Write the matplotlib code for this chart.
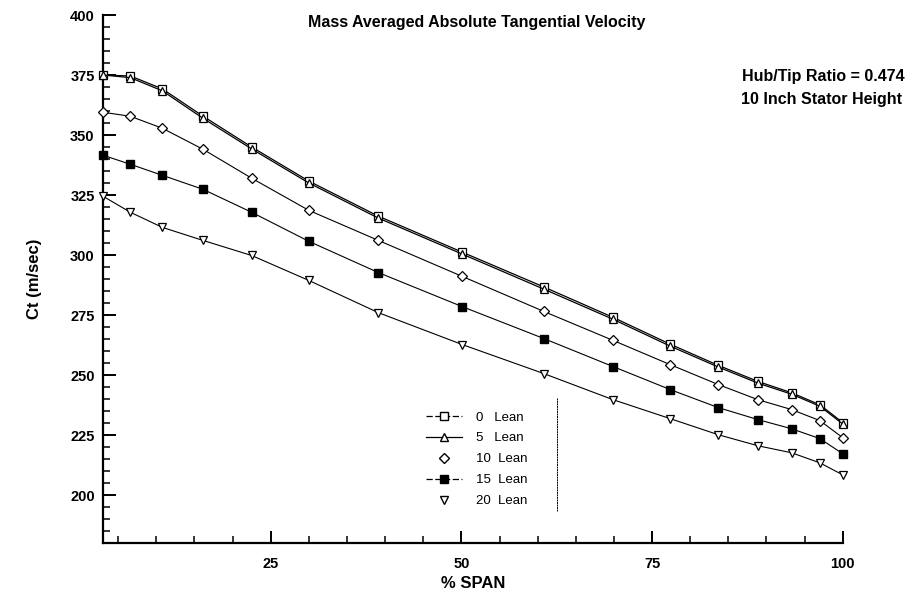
import matplotlib
matplotlib.use("Agg")
import matplotlib.pyplot as plt
from matplotlib.lines import Line2D
from matplotlib.ticker import MultipleLocator

plt.rcParams['font.family'] = ['Liberation Sans', 'DejaVu Sans']

# spanwise stations (% span)
span = [3, 6.6, 10.8, 16.1, 22.5, 30.0, 39.1, 50.1, 60.8, 69.9, 77.4, 83.7, 88.9, 93.3, 97.0, 100]

lean0 = [375.0, 374.6, 369.2, 357.9, 345.0, 330.8, 316.2, 301.2, 286.7, 274.0, 262.8, 254.0, 247.3, 242.6, 237.6, 230.2]
lean5 = [375.0, 373.9, 368.4, 357.0, 344.2, 330.0, 315.4, 300.4, 285.8, 273.2, 262.0, 253.3, 246.6, 242.0, 237.0, 229.6]
lean10 = [359.5, 357.8, 352.8, 344.1, 332.0, 318.6, 306.1, 291.1, 276.5, 264.4, 254.3, 246.0, 239.7, 235.6, 231.0, 223.9]
lean15 = [341.6, 337.8, 333.2, 327.4, 317.8, 305.7, 292.7, 278.5, 265.2, 253.5, 243.9, 236.4, 231.4, 227.6, 223.5, 217.2]
lean20 = [324.5, 317.8, 311.5, 306.1, 299.8, 289.4, 276.0, 262.7, 250.6, 239.7, 231.8, 225.1, 220.5, 217.6, 213.4, 208.4]

labels = ["0   Lean", "5   Lean", "10  Lean", "15  Lean", "20  Lean"]

# stray vertical rule next to the legend (span %, Ct range)
rule_x = 62.5
rule_y = (193.5, 240.5)

fig = plt.figure(figsize=(9.16, 6.01), dpi=100)
ax = fig.add_axes([0.1124, 0.0965, 0.8076, 0.8785])

ax.plot(span, lean0, color='black', lw=0.9, marker='s', ms=5.5,
        mfc='white', mec='black', mew=0.9, clip_on=False, zorder=3)
ax.plot(span, lean5, color='black', lw=0.9, marker='^', ms=6,
        mfc='white', mec='black', mew=0.9, clip_on=False, zorder=4)
ax.plot(span, lean10, color='black', lw=0.8, marker='D', ms=5.5,
        mfc='white', mec='black', mew=0.9, clip_on=False, zorder=3)
ax.plot(span, lean15, color='black', lw=0.8, marker='s', ms=5.5,
        mfc='black', mec='black', clip_on=False, zorder=3)
ax.plot(span, lean20, color='black', lw=0.8, marker='v', ms=6,
        mfc='white', mec='black', mew=0.9, clip_on=False, zorder=3)

ax.plot([rule_x, rule_x], rule_y, color='black', lw=0.7, ls=(0, (2, 0.6)))

ax.set_xlim(3, 100)
ax.set_ylim(180, 400)
ax.xaxis.set_minor_locator(MultipleLocator(5))
ax.yaxis.set_minor_locator(MultipleLocator(5))
ax.set_yticks([200, 225, 250, 275, 300, 325, 350, 375, 400])
ax.set_xticks([25, 50, 75, 100])

ax.spines['top'].set_visible(False)
ax.spines['right'].set_visible(False)
ax.spines['left'].set_linewidth(1.6)
ax.spines['bottom'].set_linewidth(1.6)
ax.tick_params(which='major', direction='in', length=9, width=1.4, labelsize=10.5, pad=6)
ax.tick_params(which='minor', direction='in', length=5, width=1.1)
ax.tick_params(axis='x', pad=10)
for t in ax.get_xticklabels() + ax.get_yticklabels():
    t.set_fontweight('bold')

ax.set_xlabel('% SPAN', fontsize=12, fontweight='bold', labelpad=4)
ax.set_ylabel('Ct (m/sec)', fontsize=12, fontweight='bold', labelpad=20)

fig.text(0.52, 0.962, 'Mass Averaged Absolute Tangential Velocity', ha='center',
         va='center', fontsize=11.5, fontweight='bold')
fig.text(0.988, 0.873, 'Hub/Tip Ratio = 0.474', ha='right', va='center',
         fontsize=11.5, fontweight='bold')
fig.text(0.985, 0.834, '10 Inch Stator Height', ha='right', va='center',
         fontsize=11.5, fontweight='bold')

handles = [
    Line2D([], [], color='black', lw=0.9, ls=(0, (5, 2)), marker='s', ms=5.5, mfc='white', mec='black'),
    Line2D([], [], color='black', lw=0.9, marker='^', ms=6, mfc='white', mec='black'),
    Line2D([], [], color='black', lw=0, marker='D', ms=5.5, mfc='white', mec='black'),
    Line2D([], [], color='black', lw=0.9, ls=(0, (5, 2)), marker='s', ms=5.5, mfc='black', mec='black'),
    Line2D([], [], color='black', lw=0, marker='v', ms=6, mfc='white', mec='black'),
]
ax.legend(handles, labels, loc='upper left', bbox_to_anchor=(0.42, 0.272), frameon=False,
          fontsize=9.5, handlelength=2.8, handletextpad=1.0, labelspacing=0.66)

fig.savefig('out.png', dpi=100)
